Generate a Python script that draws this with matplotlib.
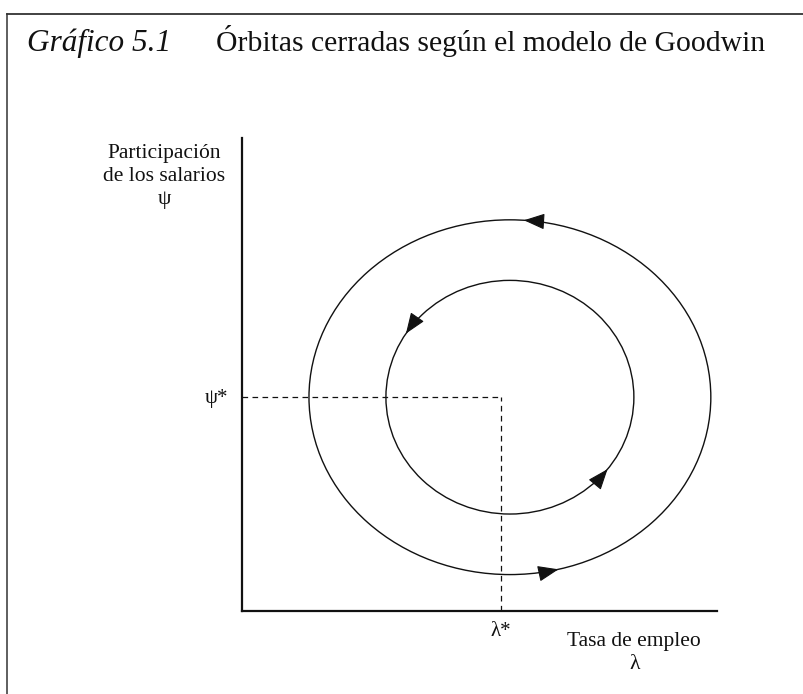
"""Goodwin model closed orbits (Gráfico 5.1) redrawn as a schematic phase diagram."""

import matplotlib

matplotlib.use("Agg")
import matplotlib.pyplot as plt
import numpy as np
from matplotlib.lines import Line2D
from matplotlib.patches import Ellipse

W, H, DPI = 804, 694, 100

# equilibrium point (axis units, 0..1 on both axes)
LAMBDA_STAR = 0.545
PSI_STAR = 0.452

# closed orbits: outer, inner
ORBIT_CX = [0.564, 0.564]
ORBIT_CY = [0.452, 0.452]
ORBIT_HALF_W = [0.423, 0.261]
ORBIT_HALF_H = [0.375, 0.247]
# where the direction arrows sit on each orbit (degrees, counter-clockwise)
ARROW_ANGLES = [[86.0, -76.0], [147.0, -38.0]]

TITLE_NUM = "Gráfico 5.1"
TITLE_TEXT = "Órbitas cerradas según el modelo de Goodwin"
Y_LABEL = ["Participación", "de los salarios", "ψ"]
X_LABEL = ["Tasa de empleo", "λ"]
X_MARK = "λ*"
Y_MARK = "ψ*"

SERIF = ["Liberation Serif", "DejaVu Serif"]
INK = "#111111"

plt.rcParams["font.family"] = SERIF


def px(x, y):
    """pixel position of the 804x694 canvas -> figure fraction"""
    return x / W, 1 - y / H


fig = plt.figure(figsize=(W / DPI, H / DPI), dpi=DPI)
fig.patch.set_facecolor("white")

# page frame (top rule and left rule)
fig.add_artist(Line2D([px(7, 0)[0], 1.0], [px(0, 14)[1]] * 2, color="#333333", lw=1.3))
fig.add_artist(Line2D([px(7, 0)[0]] * 2, [0.0, px(0, 14)[1]], color="#333333", lw=1.1))

# axes box: y axis at x=242, x axis at y=611, top 138, right 717
l, b = px(242, 611)
r, t = px(717, 138)
ax = fig.add_axes([l, b, r - l, t - b])
ax.set_xlim(0, 1)
ax.set_ylim(0, 1)
for side in ("top", "right"):
    ax.spines[side].set_visible(False)
for side in ("left", "bottom"):
    ax.spines[side].set_linewidth(1.6)
    ax.spines[side].set_color(INK)
ax.set_xticks([])
ax.set_yticks([])
ax.patch.set_alpha(0)

# dashed guides to the equilibrium
ax.plot([0, LAMBDA_STAR], [PSI_STAR, PSI_STAR], color=INK, lw=0.9,
        linestyle=(0, (4.5, 3.5)), clip_on=False)
ax.plot([LAMBDA_STAR, LAMBDA_STAR], [0, PSI_STAR], color=INK, lw=0.9,
        linestyle=(0, (4.5, 3.5)), clip_on=False)

# orbits
sx = (717 - 242)  # pixels per axis unit
sy = (611 - 138)
for cx, cy, hw, hh, angles in zip(ORBIT_CX, ORBIT_CY, ORBIT_HALF_W, ORBIT_HALF_H, ARROW_ANGLES):
    ax.add_patch(Ellipse((cx, cy), 2 * hw, 2 * hh, fill=False, ec=INK, lw=1.0, clip_on=False))
    for ang in angles:
        th = np.deg2rad(ang)
        tip = (cx + hw * np.cos(th), cy + hh * np.sin(th))
        dx, dy = -hw * np.sin(th) * sx, hh * np.cos(th) * sy
        n = np.hypot(dx, dy)
        tail = (tip[0] - 16 * dx / n / sx, tip[1] - 16 * dy / n / sy)
        ax.annotate("", xy=tip, xytext=tail,
                    arrowprops=dict(arrowstyle="-|>,head_length=1.3,head_width=0.5",
                                    fc=INK, ec=INK, lw=0.8, shrinkA=0, shrinkB=0,
                                    mutation_scale=10))

# equilibrium marks
fig.text(*px(216, 399), Y_MARK, fontsize=15, ha="center", va="center", color=INK)
fig.text(*px(501, 632), X_MARK, fontsize=15, ha="center", va="center", color=INK)

# axis labels
for i, line in enumerate(Y_LABEL):
    fig.text(*px(164, 158 + 23 * i), line, fontsize=15.5, ha="center", va="baseline", color=INK)
fig.text(*px(634, 646), X_LABEL[0], fontsize=15.5, ha="center", va="baseline", color=INK)
fig.text(*px(635, 669), X_LABEL[1], fontsize=15.5, ha="center", va="baseline", color=INK)

# title
fig.text(*px(27, 51), TITLE_NUM, fontsize=22.5, style="italic", ha="left", va="baseline", color=INK)
fig.text(*px(216, 51), TITLE_TEXT, fontsize=21.3, ha="left", va="baseline", color=INK)

fig.savefig("out.png", dpi=DPI, facecolor="white")
